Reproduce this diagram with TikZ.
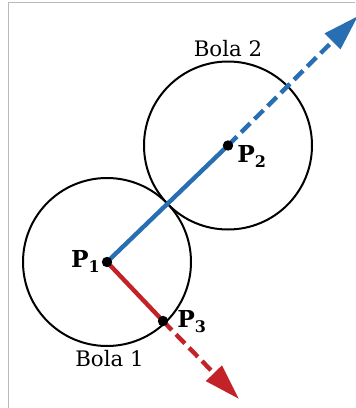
\documentclass[tikz,border=0pt]{standalone}
\usepackage{fontspec}
\setmainfont{DejaVu Serif}
\usetikzlibrary{arrows.meta}
\definecolor{blueline}{RGB}{40,110,178}
\definecolor{redline}{RGB}{195,35,40}
\newcommand{\ptlabel}[1]{\textbf{P}\raisebox{-.45ex}{\fontsize{12}{14}\selectfont\textbf{#1}}}
\tikzset{
  ball/.style={black,line width=1.5pt},
  ptdot/.style={fill=black},
  vec/.style={line width=3.3pt},
  vecdash/.style={line width=3.3pt,dash pattern=on 9.5pt off 4.5pt,-{Triangle[length=27pt,width=16pt]}},
  lbl/.style={font=\fontsize{16}{19}\selectfont,inner sep=0pt},
  plbl/.style={font=\fontsize{17.5}{20}\selectfont,inner sep=0pt}
}
\begin{document}
\begin{tikzpicture}[x=.75pt,y=-.75pt]
\useasboundingbox (0,0) rectangle (355,408);
\draw[gray!55,line width=1.1pt] (355,2.7)--(8.3,2.7)--(8.3,408);
\coordinate (P1) at (107,262);
\coordinate (P2) at (228,145.5);
\coordinate (P3) at (163,321);
\coordinate (tipb) at (358,16);
\coordinate (tipr) at (239,399);
\draw[ball] (P1) circle[radius=84];
\draw[ball] (P2) circle[radius=84];
\draw[vec,blueline] (P1)--(P2);
\draw[vecdash,blueline] (P2)--(tipb);
\draw[vec,redline] (P1)--(P3);
\draw[vecdash,redline] (P3)--(tipr);
\fill[ptdot] (P1) circle[radius=5.2];
\fill[ptdot] (P2) circle[radius=5.2];
\fill[ptdot] (P3) circle[radius=5.2];
\node[lbl,anchor=base] (b2) at (228,56.7) {Bola 2};
\node[lbl,anchor=base] (b1) at (109.5,366.7) {Bola 1};
\node[plbl,anchor=base east] (l1) at (100,267) {\ptlabel{1}};
\node[plbl,anchor=base west] (l2) at (237,162) {\ptlabel{2}};
\node[plbl,anchor=base west] (l3) at (177,327) {\ptlabel{3}};
\end{tikzpicture}
\end{document}
